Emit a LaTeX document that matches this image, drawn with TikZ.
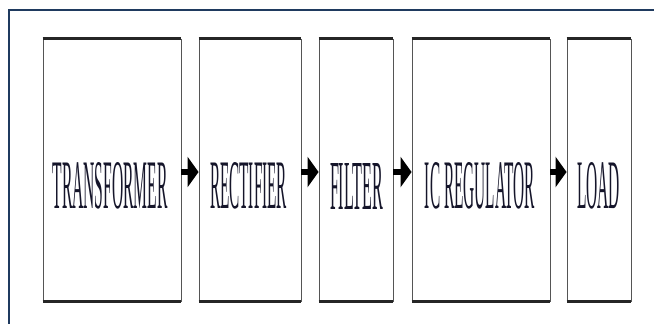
\documentclass[tikz,border=0pt]{standalone}
\usepackage{graphicx}
\usepackage{fontspec}
\setmainfont{Liberation Serif}
\usetikzlibrary{arrows.meta,calc}
\definecolor{frameblue}{HTML}{1F3A5F}
\definecolor{txtdark}{HTML}{15152A}
\definecolor{edgegray}{HTML}{555555}
\tikzset{
  blockbox/.style={draw=edgegray, line width=0.9pt, minimum height=262pt, inner sep=0pt, fill=white},
  thickedge/.style={line width=3pt, draw=black!85},
  blocktext/.style={inner sep=0pt, text=txtdark},
  flowarrow/.style={line width=5.5pt, -{Triangle[length=11pt,width=30pt]}, draw=black}
}
\newcommand{\squeezed}[2]{\resizebox{#1pt}{46pt}{#2}}
\begin{document}
\begin{tikzpicture}[x=1pt,y=-1pt]
\useasboundingbox (0,0) rectangle (654,324);
\fill[white] (0,0) rectangle (654,324);
% outer frame (only top and left visible)
\coordinate (fbl) at (8.5,330);
\coordinate (ftl) at (8.5,10);
\coordinate (ftr) at (660,10);
\draw[frameblue, line width=2pt] (fbl) -- (ftl) -- (ftr);
% blocks
\node[blockbox, minimum width=138pt] (b1) at (112,170) {};
\node[blockbox, minimum width=102pt] (b2) at (250,170) {};
\node[blockbox, minimum width=74pt]  (b3) at (356,170) {};
\node[blockbox, minimum width=138pt] (b4) at (481,170) {};
\node[blockbox, minimum width=64pt]  (b5) at (599,170) {};
\foreach \b in {b1,b2,b3,b4,b5}{
  \draw[thickedge] (\b.north west) -- (\b.north east);
  \draw[thickedge] (\b.south west) -- (\b.south east);
}
% texts
\node[blocktext] (t1) at (110,186) {\squeezed{115}{TRANSFORMER}};
\node[blocktext] (t2) at (248.5,186) {\squeezed{77}{RECTIFIER}};
\node[blocktext] (t3) at (356.5,186) {\squeezed{53}{FILTER}};
\node[blocktext] (t4) at (480,186) {\squeezed{110}{IC REGULATOR}};
\node[blocktext] (t5) at (598.5,186) {\squeezed{43}{LOAD}};
% arrows
\draw[flowarrow] ($(b1.east)+(0,2)$) -- ($(b2.west)+(0,2)$);
\draw[flowarrow] ($(b2.east)+(0,2)$) -- ($(b3.west)+(0,2)$);
\draw[flowarrow] ($(b3.east)+(0,2)$) -- ($(b4.west)+(0,2)$);
\draw[flowarrow] ($(b4.east)+(0,2)$) -- ($(b5.west)+(0,2)$);
\end{tikzpicture}
\end{document}
